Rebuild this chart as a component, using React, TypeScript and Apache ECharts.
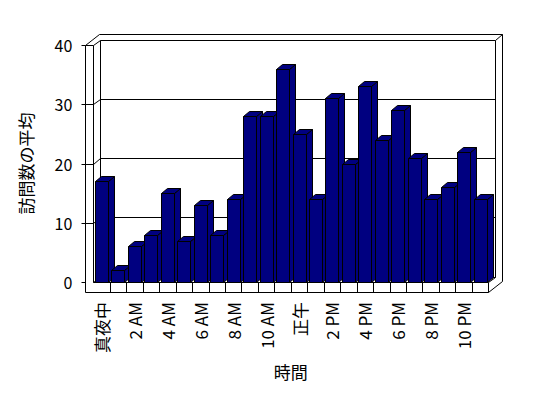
import React, { useEffect, useRef } from "react";
import * as echarts from "echarts";

const hours = [
  "真夜中", "1 AM", "2 AM", "3 AM", "4 AM", "5 AM", "6 AM", "7 AM", "8 AM", "9 AM", "10 AM", "11 AM",
  "正午", "1 PM", "2 PM", "3 PM", "4 PM", "5 PM", "6 PM", "7 PM", "8 PM", "9 PM", "10 PM", "11 PM",
];
const visits = [17, 2, 6, 8, 15, 7, 13, 8, 14, 28, 28, 36, 25, 14, 31, 20, 33, 24, 29, 21, 14, 16, 22, 14];
const yTicks = [0, 10, 20, 30, 40];
const yTitle = "訪問数の平均";
const xTitle = "時間";

const FONT = "'Noto Sans CJK JP', sans-serif";
const NAVY = "#000080";

const s = (v: number) => Math.round(v) + 0.5;

export default function App() {
  const ref = useRef<HTMLDivElement>(null);
  useEffect(() => {
    if (!ref.current) return;
    const chart = echarts.init(ref.current, null, { renderer: "svg" });
    const yMax = yTicks[yTicks.length - 1];
    const dx = 7, dy = -5.5; // wall depth offset
    const bdx = 6, bdy = -5; // bar depth offset
    const t = 8.5; // left wall thickness
    const f = 10; // floor thickness
    const line = { stroke: "#000", lineWidth: 1 };
    const P = (x: number, y: number) => [s(x), s(y)];

    const frameRender = (params: any, api: any) => {
      const p00 = api.coord([0, 0]);
      const band = api.size([1, 0])[0];
      const xL = p00[0] - band / 2;
      const xR = xL + band * hours.length;
      const yB = p00[1];
      const yT = api.coord([0, yMax])[1];
      const children: any[] = [];
      children.push({
        type: "polygon",
        shape: {
          points: [
            P(xL - t, yT), P(xL - t + 2 * dx, yT + 2 * dy), P(xR + 2 * dx, yT + 2 * dy),
            P(xR + 2 * dx, yB + f + 2 * dy), P(xR, yB + f), P(xL - t, yB + f),
          ],
        },
        style: { fill: "#fff", ...line },
      });
      children.push({
        type: "polygon",
        shape: { points: [P(xL + dx, yT + dy), P(xR + dx, yT + dy), P(xR + dx, yB + dy), P(xL + dx, yB + dy)] },
        style: { fill: "#fff", ...line },
      });
      const segs: number[][] = [
        [xL, yT, xL, yB],
        [xL, yT, xL + dx, yT + dy],
        [xL, yB, xL + dx, yB + dy],
        [xL - t, yT, xL, yT],
        [xR + dx, yT + dy, xR + 2 * dx, yT + 2 * dy],
        [xL, yB, xR, yB],
        [xR, yB, xR, yB + f],
        [xR, yB, xR + dx, yB + dy],
      ];
      for (let k = 1; k < hours.length; k++) {
        segs.push([xL + k * band, yB, xL + k * band, yB + f]);
      }
      yTicks.forEach((v) => {
        if (v === 0 || v === yMax) return;
        const y = api.coord([0, v])[1];
        segs.push([xL + dx, y + dy, xR + dx, y + dy]);
        segs.push([xL, y, xL + dx, y + dy]);
        segs.push([xL - t - 4, y, xL, y]);
      });
      segs.push([xL - t - 4, yT, xL - t, yT]);
      segs.push([xL - t - 4, yB, xL - t, yB]);
      segs.forEach((g) => {
        children.push({
          type: "line",
          shape: { x1: s(g[0]), y1: s(g[1]), x2: s(g[2]), y2: s(g[3]) },
          style: line,
        });
      });
      return { type: "group", children };
    };

    const barRender = (params: any, api: any) => {
      const i = api.value(0);
      const v = api.value(1);
      const top = api.coord([i, v]);
      const base = api.coord([i, 0]);
      const band = api.size([1, 0])[0];
      const w = band * 0.79;
      const x0 = s(top[0] - w / 2);
      const x1 = s(top[0] + w / 2);
      const yT = s(top[1]);
      const yB = s(base[1]);
      const style = { fill: NAVY, stroke: "#000", lineWidth: 1 };
      return {
        type: "group",
        children: [
          { type: "polygon", shape: { points: [[x1, yB], [x1 + bdx, yB + bdy], [x1 + bdx, yT + bdy], [x1, yT]] }, style },
          { type: "polygon", shape: { points: [[x0, yT], [x0 + bdx, yT + bdy], [x1 + bdx, yT + bdy], [x1, yT]] }, style },
          { type: "rect", shape: { x: x0, y: yT, width: x1 - x0, height: yB - yT }, style },
        ],
      };
    };

    chart.setOption({
      animation: false,
      backgroundColor: "#fff",
      textStyle: { fontFamily: FONT },
      grid: { left: 93.3, width: 395, top: 45, height: 237 },
      xAxis: {
        type: "category",
        data: hours,
        axisLine: { show: false },
        axisTick: { show: false },
        axisLabel: {
          interval: 1,
          rotate: 90,
          margin: 20,
          fontSize: 17,
          color: "#000000",
          fontFamily: FONT,
        },
        name: xTitle,
        nameLocation: "middle",
        nameGap: 81,
        nameTextStyle: { fontSize: 17, color: "#000", fontFamily: FONT },
      },
      yAxis: {
        type: "value",
        min: 0,
        max: yMax,
        interval: 10,
        axisLine: { show: false },
        axisTick: { show: false },
        splitLine: { show: false },
        axisLabel: { margin: 21, fontSize: 16, color: "#000", fontFamily: FONT },
        name: yTitle,
        nameLocation: "middle",
        nameRotate: 90,
        nameGap: 59,
        nameTextStyle: { fontSize: 17, color: "#000", fontFamily: FONT },
      },
      series: [
        {
          type: "custom",
          z: 1,
          renderItem: frameRender,
          data: [[0, 0]],
          encode: { x: 0, y: 1 },
          silent: true,
        },
        {
          type: "custom",
          z: 2,
          renderItem: barRender,
          data: visits.map((v, i) => [i, v]),
          encode: { x: 0, y: 1 },
        },
      ],
    });
    return () => chart.dispose();
  }, []);
  return <div ref={ref} style={{ position: "fixed", left: 0, top: 0, width: 548, height: 398 }} />;
}
